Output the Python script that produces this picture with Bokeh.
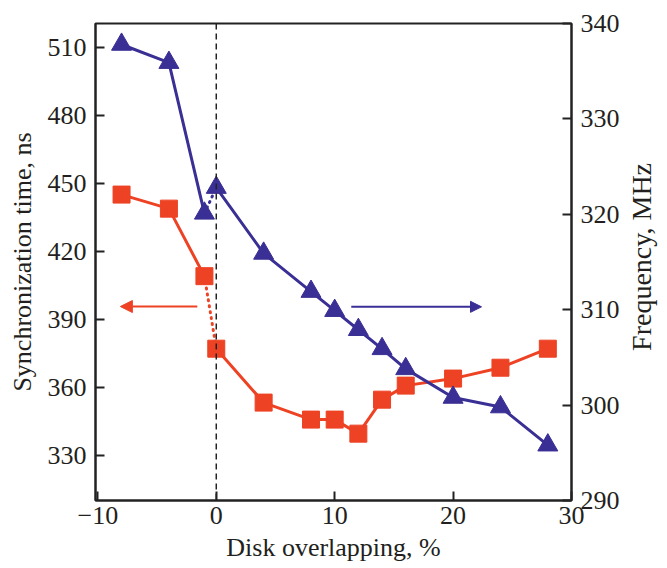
import math
from bokeh.plotting import figure
from bokeh.layouts import row
from bokeh.models import Range1d, LinearAxis, FixedTicker, Arrow, NormalHead, Span, Label
from bokeh.embed import file_html
from bokeh.resources import INLINE

# Data
overlap = [-8, -4, -1, 0, 4, 8, 10, 12, 14, 16, 20, 24, 28]
sync_time = [445.0, 438.8, 409.0, 377.0, 353.2, 345.7, 345.7, 339.5, 354.5, 360.7, 363.8, 368.6, 377.0]
frequency = [337.8, 335.9, 320.1, 322.8, 315.9, 311.9, 309.9, 307.9, 305.9, 303.8, 300.8, 299.8, 295.8]

x_ticks = [-10, 0, 10, 20, 30]
left_ticks = [330, 360, 390, 420, 450, 480, 510]
right_ticks = [290, 300, 310, 320, 330, 340]

x_title = "Disk overlapping, %"
left_title = "Synchronization time, ns"
right_title = "Frequency, MHz"

RED = "#EE4224"
BLUE = "#3A2F94"
FONT = "Liberation Serif"
TXT = "#231F20"

p = figure(width=622, height=564, output_backend="svg", toolbar_location=None,
           x_range=Range1d(-10.2, 30.0), y_range=Range1d(310.0, 520.5),
           min_border_left=95, min_border_right=51, min_border_top=23, min_border_bottom=64)
p.extra_y_ranges = {"freq": Range1d(290, 340)}
p.grid.visible = False
p.background_fill_color = "white"
p.outline_line_color = "#222222"
p.outline_line_width = 2

def style_axis(ax):
    ax.major_tick_in = 9
    ax.major_tick_out = 0
    ax.minor_tick_in = 0
    ax.minor_tick_out = 0
    ax.axis_line_width = 2
    ax.axis_line_color = "#222222"
    ax.major_tick_line_width = 2
    ax.major_tick_line_color = "#222222"
    ax.major_label_text_font = FONT
    ax.major_label_text_font_size = "26px"
    ax.major_label_text_color = TXT
    ax.axis_label_text_font = FONT
    ax.axis_label_text_font_size = "26px"
    ax.axis_label_text_font_style = "normal"
    ax.axis_label_text_color = TXT

xa = p.xaxis[0]
style_axis(xa)
xa.ticker = FixedTicker(ticks=x_ticks)
xa.major_label_overrides = {-10: "\u221210"}
xa.axis_label = x_title
xa.major_label_standoff = 6
xa.axis_label_standoff = 6

ya = p.yaxis[0]
style_axis(ya)
ya.ticker = FixedTicker(ticks=left_ticks)
ya.axis_label = left_title
ya.major_label_standoff = 9
ya.axis_label_standoff = 8

ra = LinearAxis(y_range_name="freq")
style_axis(ra)
ra.ticker = FixedTicker(ticks=right_ticks)
ra.major_label_standoff = 9
p.add_layout(ra, "right")

# vertical dashed line at 0
p.add_layout(Span(location=0, dimension="height", line_color="#222222",
                  line_width=1.5, line_dash="6 4"))

# Sync time (left axis), red squares
p.line(overlap[:3], sync_time[:3], line_color=RED, line_width=3)
p.line(overlap[2:4], sync_time[2:4], line_color=RED, line_width=3, line_dash="1 5", line_cap="round")
p.line(overlap[3:], sync_time[3:], line_color=RED, line_width=3)
p.scatter(overlap, sync_time, marker="square", size=17, fill_color=RED, line_color=RED)

# Frequency (right axis), blue triangles
p.line(overlap[:3], frequency[:3], line_color=BLUE, line_width=3, y_range_name="freq")
p.line(overlap[2:4], frequency[2:4], line_color=BLUE, line_width=3, line_dash="1 5",
       line_cap="round", y_range_name="freq")
p.line(overlap[3:], frequency[3:], line_color=BLUE, line_width=3, y_range_name="freq")
p.scatter(overlap, frequency, marker="triangle", size=20, fill_color=BLUE, line_color=BLUE,
          y_range_name="freq")

# axis-indicating arrows
p.add_layout(Arrow(x_start=-1.6, y_start=395.6, x_end=-8.1, y_end=395.6,
                   line_color=RED, line_width=2,
                   end=NormalHead(size=12, fill_color=RED, line_color=RED)))
p.add_layout(Arrow(x_start=11.4, y_start=310.3, x_end=22.4, y_end=310.3,
                   line_color=BLUE, line_width=2, y_range_name="freq",
                   end=NormalHead(size=11, fill_color=BLUE, line_color=BLUE)))

# narrow strip holding the right axis title (reads bottom to top)
p2 = figure(width=40, height=564, output_backend="svg", toolbar_location=None,
            x_range=Range1d(0, 40), y_range=Range1d(0, 564),
            x_axis_location=None, y_axis_location=None,
            min_border_left=0, min_border_right=0, min_border_top=0, min_border_bottom=0)
p2.grid.visible = False
p2.outline_line_color = None
p2.add_layout(Label(x=19.0, y=288, text=right_title, angle=math.pi / 2,
                    text_font=FONT, text_font_size="28px", text_color=TXT,
                    text_align="center", text_baseline="middle"))

layout = row(p, p2, spacing=0)
open("out.html", "w").write(file_html(layout, INLINE))
